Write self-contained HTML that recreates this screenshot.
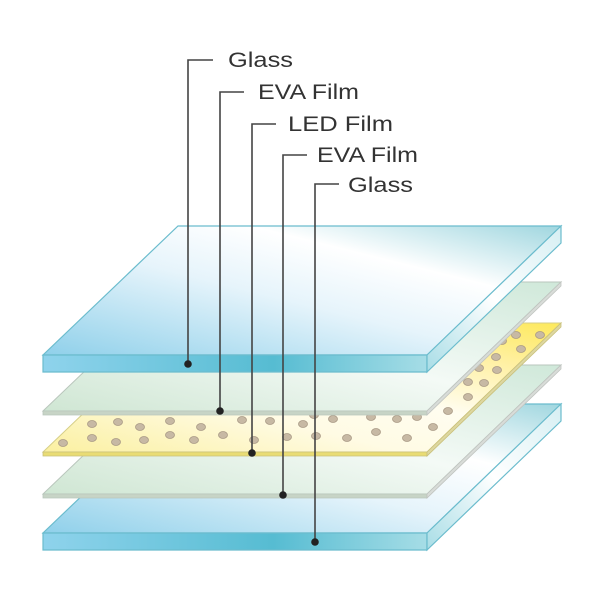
<!DOCTYPE html>
<html><head><meta charset="utf-8"><style>
body{margin:0;background:#fff}
svg{display:block}
text{font-family:"Liberation Sans",Arial,sans-serif;font-size:21px;fill:#333}
</style></head><body>
<svg width="600" height="600" viewBox="0 0 600 600" xmlns="http://www.w3.org/2000/svg">
<defs>
<linearGradient id="gtop" x1="0" y1="1" x2="1" y2="0">
<stop offset="0" stop-color="#8fd0ea"/><stop offset="0.45" stop-color="#e6f4fb"/><stop offset="0.7" stop-color="#ffffff"/><stop offset="1" stop-color="#9fd6df"/>
</linearGradient>
<linearGradient id="gfront" x1="0" y1="0" x2="1" y2="0">
<stop offset="0" stop-color="#8fd3ec"/><stop offset="0.6" stop-color="#56bcd2"/><stop offset="1" stop-color="#a6dde6"/>
</linearGradient>
<linearGradient id="gside" x1="0" y1="1" x2="1" y2="0">
<stop offset="0" stop-color="#a8dde6"/><stop offset="0.5" stop-color="#ffffff"/><stop offset="1" stop-color="#d6eff3"/>
</linearGradient>
<linearGradient id="film" x1="0" y1="1" x2="1" y2="0">
<stop offset="0" stop-color="#cfe6d3"/><stop offset="0.5" stop-color="#f4faf6"/><stop offset="1" stop-color="#cfe8d9"/>
</linearGradient>
<linearGradient id="led" x1="0" y1="1" x2="1" y2="0">
<stop offset="0" stop-color="#fbf0a0"/><stop offset="0.35" stop-color="#fffbe4"/><stop offset="0.55" stop-color="#fffdf0"/><stop offset="0.8" stop-color="#fff0a0"/><stop offset="1" stop-color="#fde95a"/>
</linearGradient>
</defs>

<polygon points="43,533 427,533 561,404 178,404" fill="url(#gtop)" stroke="#6bbccd" stroke-width="1.2"/>
<polygon points="43,533 427,533 427,550 43,550" fill="url(#gfront)" stroke="#6bbccd" stroke-width="1.2"/>
<polygon points="427,533 561,404 561,421 427,550" fill="url(#gside)" stroke="#6bbccd" stroke-width="1.2"/>

<polygon points="43,494 427,494 561,365 178,365" fill="url(#film)" stroke="#b9c6bc" stroke-width="1"/>
<polygon points="43,494 427,494 427,498 43,498" fill="#c7d4c6" stroke="#b9c6bc" stroke-width="0.8"/>
<polygon points="427,494 561,365 561,369 427,498" fill="#d8dcd8" stroke="#c0c4c0" stroke-width="0.8"/>

<polygon points="43,452 427,452 561,323 178,323" fill="url(#led)" stroke="#d6cf88" stroke-width="1"/>
<polygon points="43,452 427,452 427,456 43,456" fill="#e9dc74" stroke="#c9c07a" stroke-width="0.8"/>
<polygon points="427,452 561,323 561,327 427,456" fill="#ddd7a0" stroke="#c9c07a" stroke-width="0.8"/>
<g fill="#c7b9a4" stroke="#a99a86" stroke-width="0.8">
<ellipse cx="63" cy="443" rx="4.5" ry="3.5"/><ellipse cx="92" cy="438" rx="4.5" ry="3.5"/><ellipse cx="116" cy="442" rx="4.5" ry="3.5"/><ellipse cx="144" cy="440" rx="4.5" ry="3.5"/><ellipse cx="170" cy="435" rx="4.5" ry="3.5"/><ellipse cx="194" cy="440" rx="4.5" ry="3.5"/><ellipse cx="223" cy="435" rx="4.5" ry="3.5"/><ellipse cx="254" cy="440" rx="4.5" ry="3.5"/><ellipse cx="287" cy="437" rx="4.5" ry="3.5"/><ellipse cx="316" cy="436" rx="4.5" ry="3.5"/><ellipse cx="347" cy="438" rx="4.5" ry="3.5"/><ellipse cx="376" cy="432" rx="4.5" ry="3.5"/><ellipse cx="407" cy="438" rx="4.5" ry="3.5"/><ellipse cx="433" cy="427" rx="4.5" ry="3.5"/>
<ellipse cx="92" cy="424" rx="4.5" ry="3.5"/><ellipse cx="118" cy="422" rx="4.5" ry="3.5"/><ellipse cx="140" cy="427" rx="4.5" ry="3.5"/><ellipse cx="170" cy="421" rx="4.5" ry="3.5"/><ellipse cx="201" cy="427" rx="4.5" ry="3.5"/><ellipse cx="242" cy="420" rx="4.5" ry="3.5"/><ellipse cx="270" cy="421" rx="4.5" ry="3.5"/><ellipse cx="303" cy="424" rx="4.5" ry="3.5"/><ellipse cx="314" cy="415" rx="4.5" ry="3.5"/><ellipse cx="333" cy="419" rx="4.5" ry="3.5"/><ellipse cx="371" cy="417" rx="4.5" ry="3.5"/><ellipse cx="397" cy="419" rx="4.5" ry="3.5"/><ellipse cx="417" cy="417" rx="4.5" ry="3.5"/><ellipse cx="448" cy="411" rx="4.5" ry="3.5"/>
<ellipse cx="468" cy="397" rx="4.5" ry="3.5"/><ellipse cx="468" cy="382" rx="4.5" ry="3.5"/><ellipse cx="484" cy="383" rx="4.5" ry="3.5"/><ellipse cx="479" cy="368" rx="4.5" ry="3.5"/><ellipse cx="497" cy="370" rx="4.5" ry="3.5"/><ellipse cx="496" cy="357" rx="4.5" ry="3.5"/><ellipse cx="521" cy="349" rx="4.5" ry="3.5"/><ellipse cx="502" cy="341" rx="4.5" ry="3.5"/><ellipse cx="516" cy="335" rx="4.5" ry="3.5"/><ellipse cx="540" cy="335" rx="4.5" ry="3.5"/>
</g>

<polygon points="43,411 427,411 561,282 178,282" fill="url(#film)" stroke="#b9c6bc" stroke-width="1"/>
<polygon points="43,411 427,411 427,415 43,415" fill="#c7d4c6" stroke="#b9c6bc" stroke-width="0.8"/>
<polygon points="427,411 561,282 561,286 427,415" fill="#d8dcd8" stroke="#c0c4c0" stroke-width="0.8"/>

<polygon points="43,355 427,355 561,226 178,226" fill="url(#gtop)" stroke="#6bbccd" stroke-width="1.2"/>
<polygon points="43,355 427,355 427,372 43,372" fill="url(#gfront)" stroke="#6bbccd" stroke-width="1.2"/>
<polygon points="427,355 561,226 561,243 427,372" fill="url(#gside)" stroke="#6bbccd" stroke-width="1.2"/>

<g stroke="#444" stroke-width="1.6" fill="none">
<polyline points="213,60 188,60 188,364"/>
<polyline points="244,92 220,92 220,411"/>
<polyline points="276,124 252,124 252,453"/>
<polyline points="307,155 283,155 283,495"/>
<polyline points="339,184 315,184 315,542"/>
</g>
<g fill="#222">
<circle cx="188" cy="364" r="3.8"/><circle cx="220" cy="411" r="3.8"/><circle cx="252" cy="453" r="3.8"/><circle cx="283" cy="495" r="3.8"/><circle cx="315" cy="542" r="3.8"/>
</g>
<text x="228" y="67" textLength="65" lengthAdjust="spacingAndGlyphs">Glass</text>
<text x="258" y="99" textLength="101" lengthAdjust="spacingAndGlyphs">EVA Film</text>
<text x="288" y="131" textLength="105" lengthAdjust="spacingAndGlyphs">LED Film</text>
<text x="317" y="162" textLength="101" lengthAdjust="spacingAndGlyphs">EVA Film</text>
<text x="348" y="192" textLength="65" lengthAdjust="spacingAndGlyphs">Glass</text>
</svg>
</body></html>
